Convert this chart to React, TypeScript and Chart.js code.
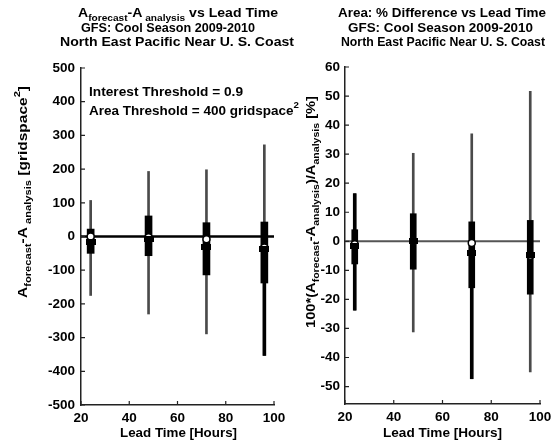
import React, { useEffect, useRef } from "react";
import { Chart, registerables } from "chart.js";
Chart.register(...registerables);

const FONT = "'Liberation Sans', Arial, sans-serif";

const leadTimes = [24, 48, 72, 96];
const xTicks = [20, 40, 60, 80, 100];

// Left panel: A_forecast - A_analysis [gridspace^2]
const diffTicks = [-500, -400, -300, -200, -100, 0, 100, 200, 300, 400, 500];
const diffMin = [-175, -230, -289, -353];
const diffMax = [107, 193, 198, 272];
const diffQ1 = [-50, -57, -114, -138];
const diffQ3 = [22, 61, 41, 43];
const diffCircle = [0, -2, -8, -33];
const diffSquare = [-15, -7, -32, -36];
const diffHeavyLow: (number | null)[] = [null, null, null, -353];
const diffHeavyHigh: (number | null)[] = [null, null, null, -138];

// Right panel: 100*(A_forecast - A_analysis)/A_analysis [%]
const pctTicks = [-50, -40, -30, -20, -10, 0, 10, 20, 30, 40, 50, 60];
const pctMin = [-23.7, -31.2, -47.3, -45];
const pctMax = [16.4, 30.3, 37, 51.6];
const pctQ1 = [-7.8, -9.6, -16, -18.2];
const pctQ3 = [4, 9.5, 6.7, 7.2];
const pctCircle = [-1, 0, -0.6, -5];
const pctSquare = [-1.5, 0, -4, -4.8];
const pctHeavyLow: (number | null)[] = [-23.7, null, -47.3, null];
const pctHeavyHigh: (number | null)[] = [16.4, null, -16, null];

type Part = { t: string; s?: "sub" | "sup" };

function drawRich(
  ctx: CanvasRenderingContext2D,
  parts: Part[],
  x: number,
  y: number,
  size: number,
  align: "center" | "left",
  fitWidth?: number
) {
  const small = size * 0.72;
  ctx.textBaseline = "middle";
  ctx.textAlign = "left";
  const widths = parts.map((p) => {
    ctx.font = `bold ${p.s ? small : size}px ${FONT}`;
    return ctx.measureText(p.t).width;
  });
  const natural = widths.reduce((a, b) => a + b, 0);
  const sx = fitWidth ? fitWidth / natural : 1;
  const total = natural * sx;
  const start = align === "center" ? x - total / 2 : x;
  ctx.save();
  ctx.translate(start, y);
  ctx.scale(sx, 1);
  let cx = 0;
  parts.forEach((p, i) => {
    ctx.font = `bold ${p.s ? small : size}px ${FONT}`;
    const dy = p.s === "sub" ? size * 0.38 : p.s === "sup" ? -size * 0.42 : 0;
    ctx.fillText(p.t, cx, dy);
    cx += widths[i];
  });
  ctx.restore();
}

type PanelCfg = {
  yTicks: number[];
  yMin: number;
  yMax: number;
  yWidth: number;
  xHeight: number;
  padTop: number;
  padRight: number;
  yPad: number;
  min: number[];
  max: number[];
  q1: number[];
  q3: number[];
  circle: number[];
  square: number[];
  heavyLow: (number | null)[];
  heavyHigh: (number | null)[];
  boxWidth: number;
  zeroColor: string;
  zeroWidth: number;
  texts: (ctx: CanvasRenderingContext2D) => void;
};

function makeRect(w: number, h: number) {
  const c = document.createElement("canvas");
  c.width = w;
  c.height = h;
  const g = c.getContext("2d")!;
  g.fillStyle = "#000";
  g.fillRect(0, 0, w, h);
  return c;
}

function buildChart(canvas: HTMLCanvasElement, p: PanelCfg) {
  const whisker = leadTimes.map((x, i) => ({ x, y: [p.min[i], p.max[i]] }));
  const box = leadTimes.map((x, i) => ({ x, y: [p.q1[i], p.q3[i]] }));
  const heavy = leadTimes
    .map((x, i) => (p.heavyLow[i] !== null ? { x, y: [p.heavyLow[i], p.heavyHigh[i] ?? p.q1[i]] } : null))
    .filter((d) => d !== null);
  const squares = leadTimes.map((x, i) => ({ x, y: p.square[i] }));
  const circles = leadTimes.map((x, i) => ({ x, y: p.circle[i] }));
  const rectImg = makeRect(p.boxWidth + 3, 6);

  const decor = {
    id: "decor",
    afterDraw(chart: any) {
      const ctx: CanvasRenderingContext2D = chart.ctx;
      const { left, bottom } = chart.chartArea;
      const xs = chart.scales.x;
      const ys = chart.scales.y;
      ctx.save();
      ctx.strokeStyle = "#222";
      ctx.lineWidth = 1.2;
      ctx.beginPath();
      for (const t of xTicks) {
        const px = xs.getPixelForValue(t);
        ctx.moveTo(px, bottom);
        ctx.lineTo(px, bottom - 4);
      }
      for (const t of p.yTicks) {
        const py = ys.getPixelForValue(t);
        ctx.moveTo(left, py);
        ctx.lineTo(left + 4, py);
      }
      ctx.stroke();
      ctx.fillStyle = "#000";
      p.texts(ctx);
      ctx.restore();
    },
  };

  return new Chart(canvas, {
    type: "scatter",
    data: {
      datasets: [
        {
          type: "line",
          data: [
            { x: 20, y: 0 },
            { x: 100, y: 0 },
          ],
          borderColor: p.zeroColor,
          borderWidth: p.zeroWidth,
          pointRadius: 0,
          order: 6,
        } as any,
        {
          type: "bar",
          data: whisker,
          backgroundColor: "#4a4a4a",
          barThickness: 2,
          grouped: false,
          order: 5,
        } as any,
        {
          type: "bar",
          data: heavy,
          backgroundColor: "#000",
          barThickness: 3,
          grouped: false,
          order: 4,
        } as any,
        {
          type: "bar",
          data: box,
          backgroundColor: "#000",
          barThickness: p.boxWidth,
          grouped: false,
          order: 3,
        } as any,
        {
          type: "scatter",
          data: circles,
          pointStyle: "circle",
          pointRadius: 3.5,
          backgroundColor: "#fff",
          borderColor: "#000",
          borderWidth: 1.5,
          order: 2,
        } as any,
        {
          type: "scatter",
          data: squares,
          pointStyle: rectImg,
          order: 1,
        } as any,
      ],
    },
    options: {
      animation: false,
      responsive: false,
      events: [],
      layout: { padding: { left: 0, top: p.padTop, right: p.padRight, bottom: 0 } },
      plugins: { legend: { display: false }, tooltip: { enabled: false }, title: { display: false } },
      scales: {
        x: {
          type: "linear",
          min: 20,
          max: 100,
          offset: false,
          grid: { display: false, drawTicks: false },
          border: { display: true, color: "#222", width: 1.5 },
          ticks: { font: { family: FONT, size: 13.5, weight: "bold" }, color: "#000", padding: 5, maxRotation: 0 },
          afterBuildTicks: (s: any) => {
            s.ticks = xTicks.map((v) => ({ value: v }));
          },
          afterFit: (s: any) => {
            s.height = p.xHeight;
          },
        },
        y: {
          type: "linear",
          min: p.yMin,
          max: p.yMax,
          grid: { display: false, drawTicks: false },
          border: { display: true, color: "#222", width: 1.5 },
          ticks: { font: { family: FONT, size: 13.5, weight: "bold" }, color: "#000", padding: p.yPad },
          afterBuildTicks: (s: any) => {
            s.ticks = p.yTicks.map((v) => ({ value: v }));
          },
          afterFit: (s: any) => {
            s.width = p.yWidth;
          },
        },
      },
    } as any,
    plugins: [decor],
  });
}

export default function App() {
  const leftRef = useRef<HTMLCanvasElement>(null);
  const rightRef = useRef<HTMLCanvasElement>(null);

  useEffect(() => {
    document.body.style.margin = "0";
    const left = buildChart(leftRef.current!, {
      yTicks: diffTicks,
      yMin: -500,
      yMax: 500,
      yWidth: 81,
      xHeight: 39,
      padTop: 68,
      padRight: 66,
      yPad: 6,
      min: diffMin,
      max: diffMax,
      q1: diffQ1,
      q3: diffQ3,
      circle: diffCircle,
      square: diffSquare,
      heavyLow: diffHeavyLow,
      heavyHigh: diffHeavyHigh,
      boxWidth: 7,
      zeroColor: "#000",
      zeroWidth: 2.5,
      texts: (ctx) => {
        drawRich(ctx, [{ t: "A" }, { t: "forecast", s: "sub" }, { t: "-A" }, { t: " analysis", s: "sub" }, { t: " vs Lead Time" }], 178, 13, 13.5, "center", 200);
        drawRich(ctx, [{ t: "GFS: Cool Season 2009-2010" }], 168, 28, 13.5, "center", 174);
        drawRich(ctx, [{ t: "North East Pacific Near U. S. Coast" }], 177, 42.5, 13.5, "center", 234);
        drawRich(ctx, [{ t: "Interest Threshold = 0.9" }], 89, 92, 13.5, "left", 154);
        drawRich(ctx, [{ t: "Area Threshold = 400 gridspace" }, { t: "2", s: "sup" }], 89, 111, 13.5, "left");
        drawRich(ctx, [{ t: "Lead Time [Hours]" }], 178.5, 433, 13.5, "center", 117);
        ctx.save();
        ctx.translate(23, 192);
        ctx.rotate(-Math.PI / 2);
        drawRich(ctx, [{ t: "A" }, { t: "forecast", s: "sub" }, { t: "-A" }, { t: " analysis", s: "sub" }, { t: " [gridspace" }, { t: "2", s: "sup" }, { t: "]" }], 0, 0, 13.5, "center", 212);
        ctx.restore();
      },
    });
    const right = buildChart(rightRef.current!, {
      yTicks: pctTicks,
      yMin: -56,
      yMax: 60,
      yWidth: 67,
      xHeight: 40,
      padTop: 67,
      padRight: 17,
      yPad: 5,
      min: pctMin,
      max: pctMax,
      q1: pctQ1,
      q3: pctQ3,
      circle: pctCircle,
      square: pctSquare,
      heavyLow: pctHeavyLow,
      heavyHigh: pctHeavyHigh,
      boxWidth: 6,
      zeroColor: "#555",
      zeroWidth: 2,
      texts: (ctx) => {
        drawRich(ctx, [{ t: "Area: % Difference vs Lead Time" }], 164, 13, 13.5, "center", 208);
        drawRich(ctx, [{ t: "GFS: Cool Season 2009-2010" }], 162.5, 28, 13.5, "center", 185);
        drawRich(ctx, [{ t: "North East Pacific Near U. S. Coast" }], 165, 42.5, 13.5, "center", 204);
        drawRich(ctx, [{ t: "Lead Time [Hours]" }], 164.5, 433, 13.5, "center", 119);
        ctx.save();
        ctx.translate(33, 212);
        ctx.rotate(-Math.PI / 2);
        drawRich(ctx, [{ t: "100*(A" }, { t: "forecast", s: "sub" }, { t: "-A" }, { t: "analysis", s: "sub" }, { t: ")/A" }, { t: "analysis", s: "sub" }, { t: " [%]" }], 0, 0, 13.5, "center", 232);
        ctx.restore();
      },
    });
    return () => {
      left.destroy();
      right.destroy();
    };
  }, []);

  return (
    <div style={{ position: "relative", width: 557, height: 444, background: "#fff" }}>
      <canvas ref={leftRef} width={340} height={444} style={{ position: "absolute", left: 0, top: 0 }} />
      <canvas ref={rightRef} width={279} height={444} style={{ position: "absolute", left: 278, top: 0 }} />
    </div>
  );
}
